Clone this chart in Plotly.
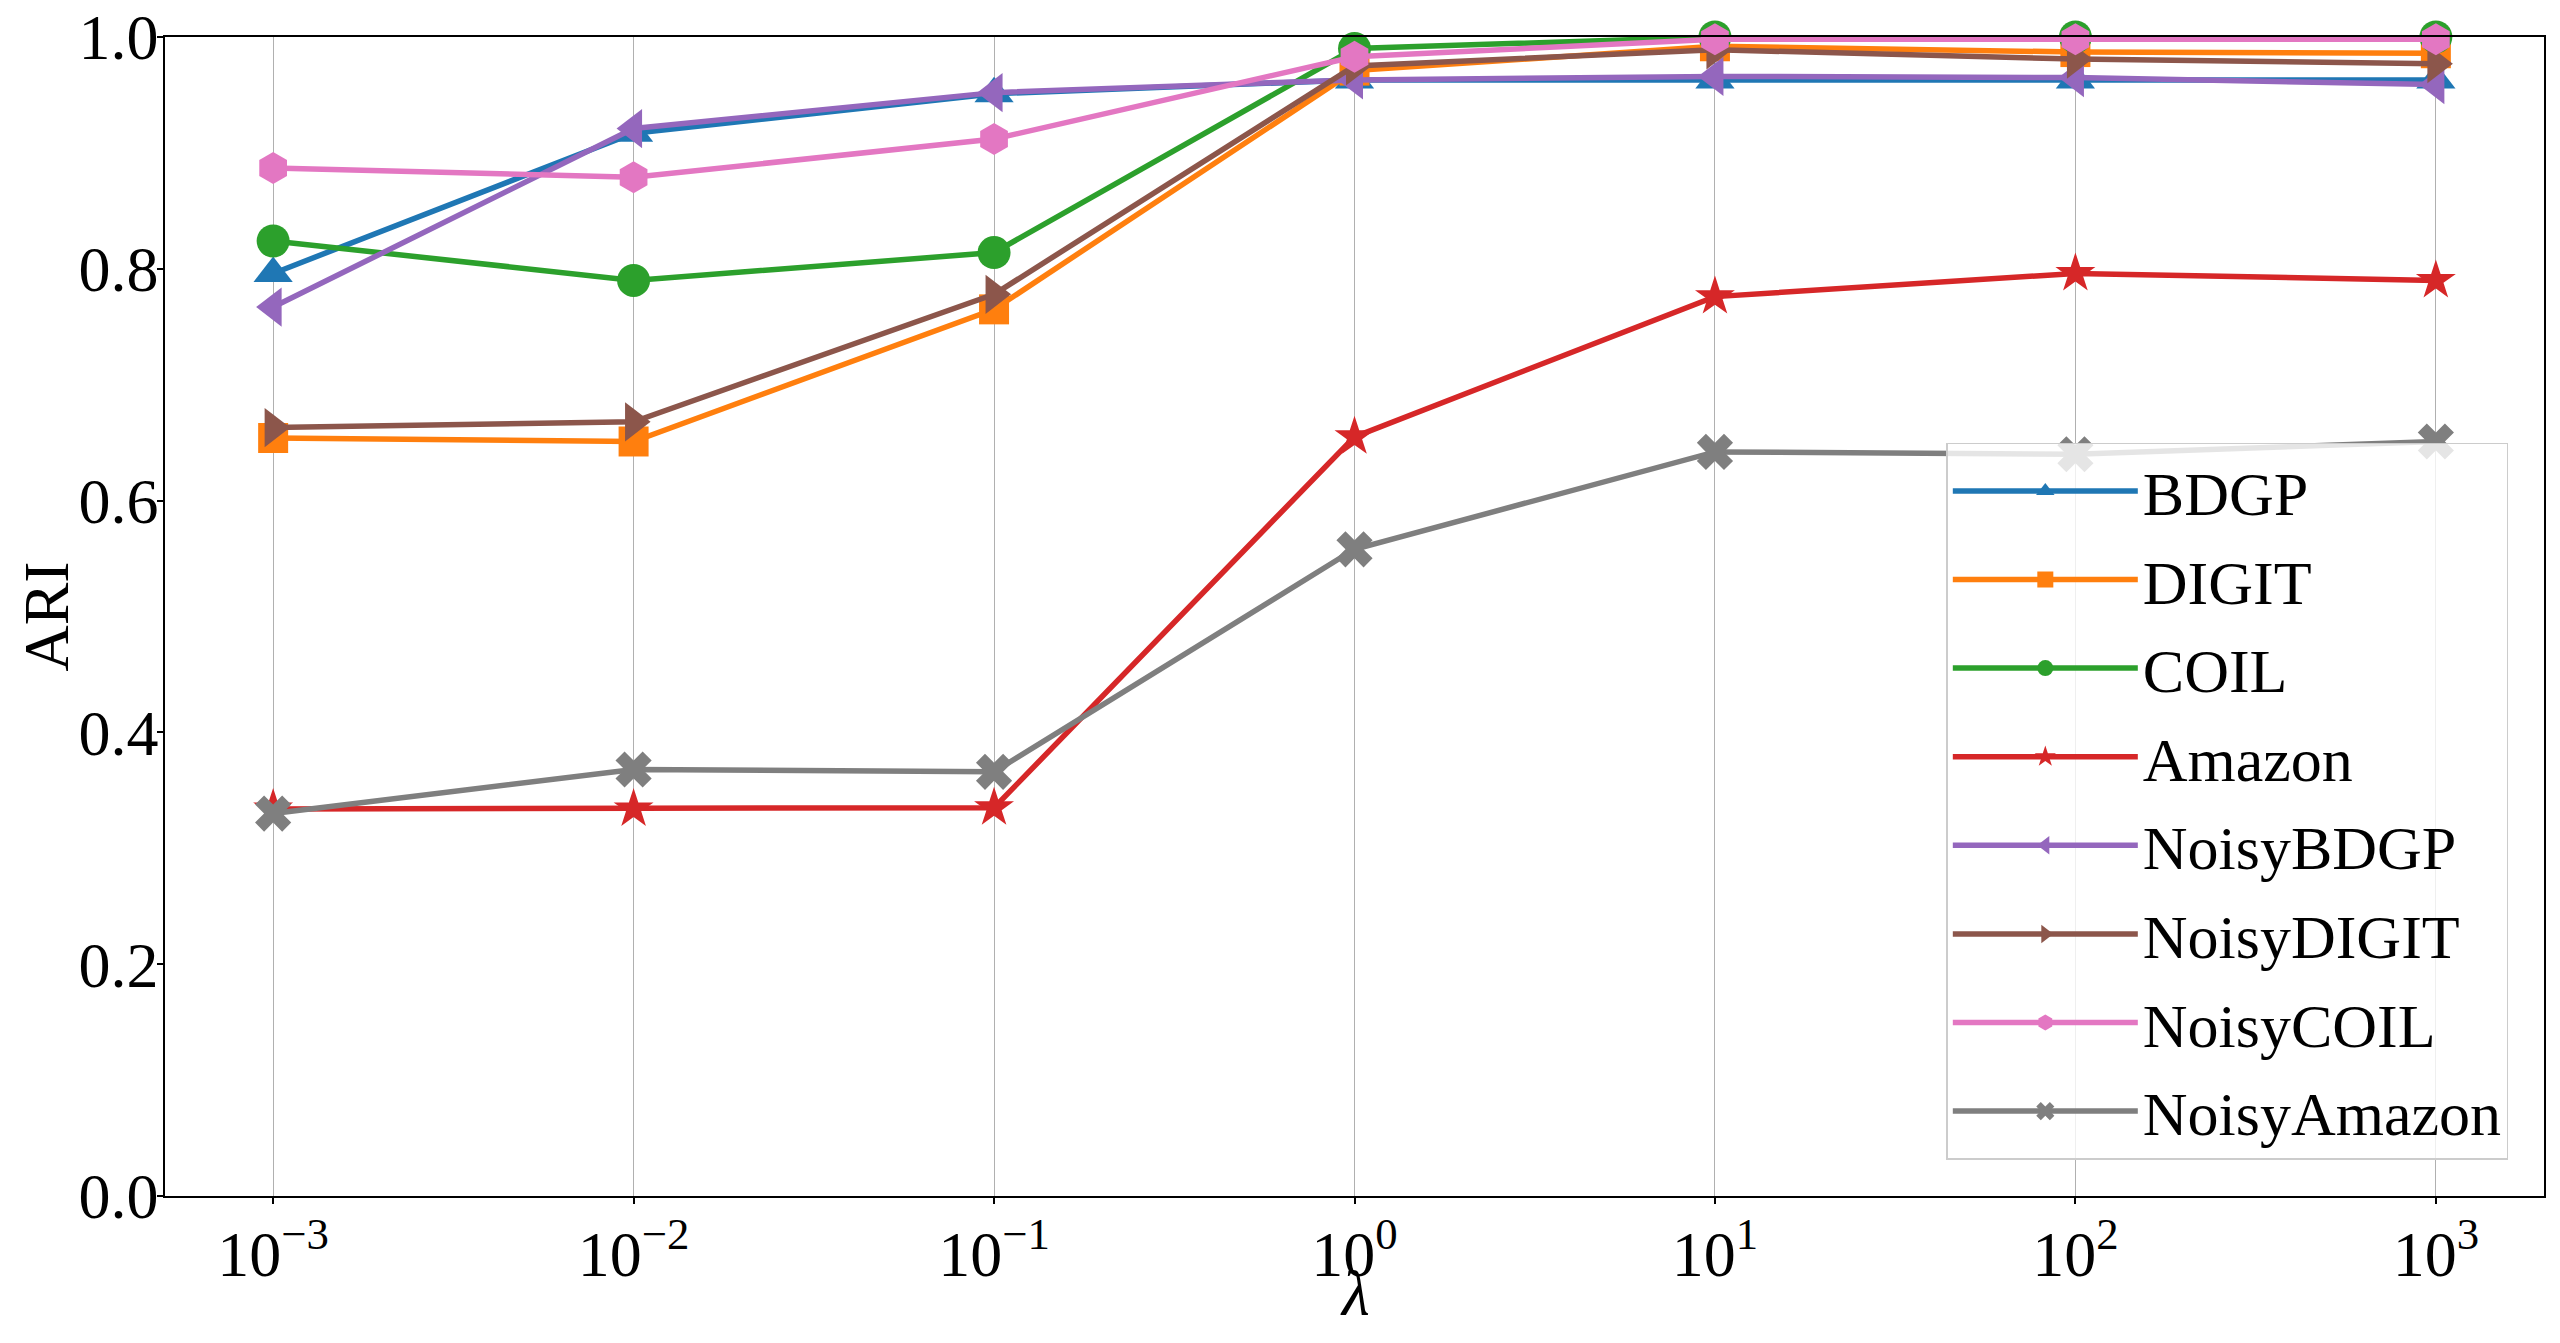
import plotly.graph_objects as go

lam = [1e-3, 1e-2, 1e-1, 1, 10, 100, 1000]
lam_labels = ["10<sup>−3</sup>", "10<sup>−2</sup>", "10<sup>−1</sup>", "10<sup>0</sup>",
              "10<sup>1</sup>", "10<sup>2</sup>", "10<sup>3</sup>"]

BDGP = [0.796, 0.917, 0.951, 0.963, 0.963, 0.963, 0.963]
DIGIT = [0.654, 0.651, 0.765, 0.971, 0.992, 0.987, 0.986]
COIL = [0.824, 0.790, 0.814, 0.990, 1.000, 1.000, 1.000]
Amazon = [0.334, 0.334, 0.335, 0.655, 0.776, 0.796, 0.790]
NoisyBDGP = [0.767, 0.921, 0.952, 0.963, 0.966, 0.965, 0.959]
NoisyDIGIT = [0.663, 0.668, 0.778, 0.975, 0.989, 0.981, 0.977]
NoisyCOIL = [0.887, 0.879, 0.912, 0.983, 0.998, 0.998, 0.998]
NoisyAmazon = [0.330, 0.368, 0.366, 0.558, 0.642, 0.640, 0.651]

y_ticks = [0.0, 0.2, 0.4, 0.6, 0.8, 1.0]

series = [
    ("BDGP", BDGP, "#1f77b4", "triangle-up", 34),
    ("DIGIT", DIGIT, "#ff7f0e", "square", 30),
    ("COIL", COIL, "#2ca02c", "circle", 33),
    ("Amazon", Amazon, "#d62728", "star", 30),
    ("NoisyBDGP", NoisyBDGP, "#9467bd", "triangle-left", 34),
    ("NoisyDIGIT", NoisyDIGIT, "#8c564b", "triangle-right", 34),
    ("NoisyCOIL", NoisyCOIL, "#e377c2", "hexagon", 32),
    ("NoisyAmazon", NoisyAmazon, "#7f7f7f", "x", 32),
]

fig = go.Figure()
for name, vals, color, sym, sz in series:
    fig.add_trace(go.Scatter(
        x=lam, y=vals, name=name, legendgroup=name, mode="lines+markers",
        line=dict(color=color, width=5.5),
        marker=dict(symbol=sym, size=sz, color=color, line=dict(width=0)),
        cliponaxis=False,
    ))

fig.update_layout(
    width=2552, height=1335,
    margin=dict(l=157, r=16, t=29, b=147),
    plot_bgcolor="white", paper_bgcolor="white",
    font=dict(family="Liberation Serif", size=64, color="black"),
    showlegend=True,
    legend=dict(
        x=0.985, y=0.0314, xanchor="right", yanchor="bottom",
        bgcolor="rgba(255,255,255,0.8)", bordercolor="#cccccc", borderwidth=1.5,
        font=dict(family="Liberation Serif", size=62, color="black"),
        itemwidth=185, tracegroupgap=5, itemsizing="trace",
    ),
    annotations=[
        dict(text="<i>λ</i>", xref="paper", yref="paper", x=0.5, y=-0.0837,
             xanchor="center", yanchor="middle", showarrow=False,
             font=dict(family="Liberation Serif", size=64, color="black")),
        dict(text="ARI", xref="paper", yref="paper", x=-0.0500, y=0.5,
             xanchor="center", yanchor="middle", showarrow=False, textangle=-90,
             font=dict(family="Liberation Serif", size=64, color="black")),
    ],
)
fig.update_xaxes(
    type="log", range=[-3.3, 3.3], automargin=False,
    tickmode="array", tickvals=lam, ticktext=lam_labels,
    showgrid=True, gridcolor="#b0b0b0", gridwidth=1.2,
    showline=True, linecolor="black", linewidth=1.5, mirror=True,
    ticks="outside", ticklen=6, tickcolor="black", tickwidth=1.5,
    ticklabelstandoff=-5,
    zeroline=False,
)
fig.update_yaxes(
    range=[0, 1], automargin=False, tickmode="array", tickvals=y_ticks,
    ticktext=[f"{v:.1f}" for v in y_ticks],
    showgrid=False,
    showline=True, linecolor="black", linewidth=1.5, mirror=True,
    ticks="outside", ticklen=6, tickcolor="black", tickwidth=1.5,
    ticklabelstandoff=-14, ticklabeloverflow="allow",
    zeroline=False,
)

fig.write_html("out.html")
